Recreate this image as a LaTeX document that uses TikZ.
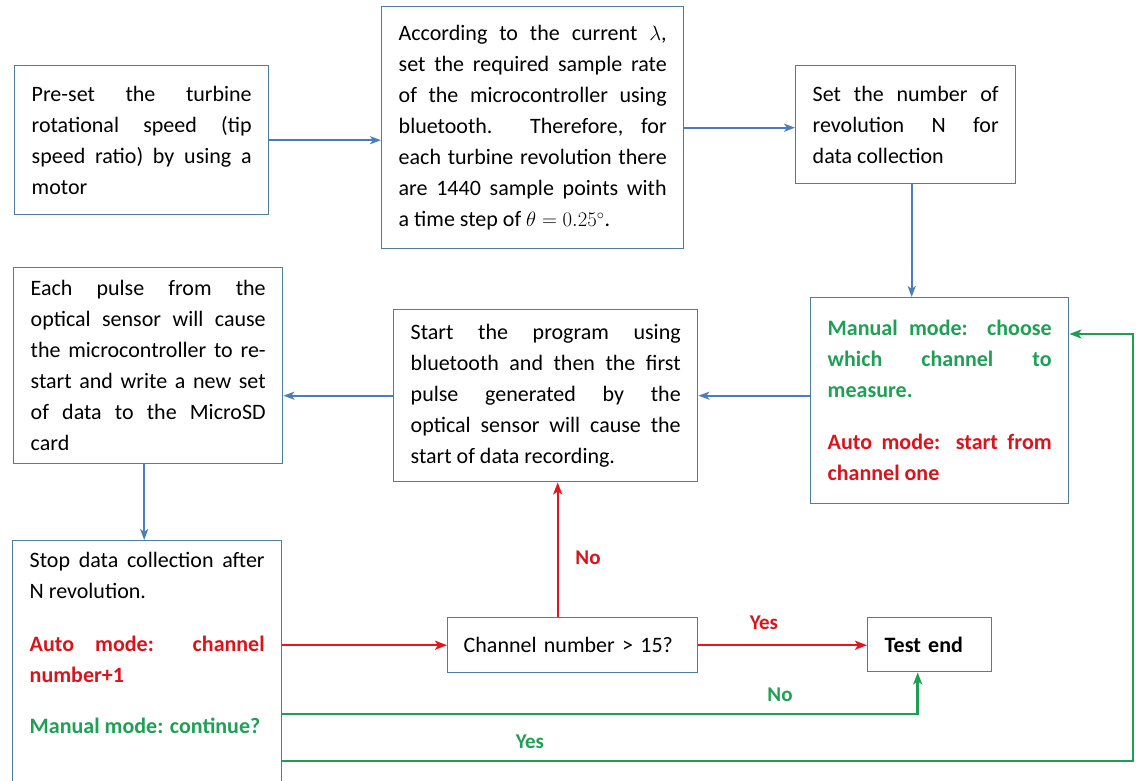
\documentclass[tikz,border=0pt]{standalone}
\usepackage{fontspec}
\setmainfont{Carlito}
\usetikzlibrary{arrows.meta,calc}
\definecolor{boxc}{HTML}{4E7E9E}
\definecolor{bluea}{HTML}{4A7EBB}
\definecolor{reda}{HTML}{E3161D}
\definecolor{redt}{HTML}{D9141C}
\definecolor{grna}{HTML}{1E9E52}
\definecolor{grnt}{HTML}{1FA055}
\tolerance=10000
\hyphenpenalty=10000
\begin{document}
\begin{tikzpicture}[x=1pt,y=-1pt,
  box/.style={draw=boxc, line width=1.4pt, fill=white, anchor=north west,
    inner xsep=17pt, inner ysep=0pt, align=justify,
    font=\fontsize{22}{31}\selectfont},
  barrow/.style={draw=bluea, line width=2pt, -{Stealth[length=11pt,width=8pt,inset=3pt]}},
  rarrow/.style={draw=reda, line width=2.2pt, -{Stealth[length=12pt,width=9pt,inset=3pt]}},
  garrow/.style={draw=grna, line width=2.6pt, -{Stealth[length=12pt,width=9pt,inset=3pt]}},
  lbl/.style={font=\fontsize{21}{25}\selectfont\bfseries, inner sep=0pt}
]
\fill[white] (0,0) rectangle (1136,780);
\useasboundingbox (0,0) rectangle (1136,780);

\node[box, text width=220pt, minimum width=254pt, minimum height=149pt] (A) at (14,65)
  {Pre-set the turbine\linebreak rotational speed (tip\linebreak speed ratio) by using a\linebreak motor};
\node[box, text width=268pt, minimum width=302pt, minimum height=242pt] (B) at (381,6)
  {According to the current $\lambda$,\linebreak set the required sample rate\linebreak of the microcontroller using\linebreak bluetooth. Therefore, for\linebreak each turbine revolution there\linebreak are 1440 sample points with\linebreak a time step of $\theta = 0.25^{\circ}$.};
\node[box, text width=186pt, minimum width=220pt, minimum height=118pt] (C) at (795,65)
  {Set the number of\linebreak revolution N for\linebreak data collection};
\node[box, text width=224pt, minimum width=258pt, minimum height=206pt] (D) at (810,297)
  {{\bfseries\color{grnt}Manual mode: choose\linebreak which channel to\linebreak measure.\par}\vspace{21pt}{\bfseries\color{redt}Auto mode: start from\linebreak channel one\par}};
\node[box, text width=270pt, minimum width=304pt, minimum height=172pt] (E) at (393,309)
  {Start the program using\linebreak bluetooth and then the first\linebreak pulse generated by the\linebreak optical sensor will cause the\linebreak start of data recording.};
\node[box, text width=235pt, minimum width=269pt, minimum height=196pt] (F) at (13,267)
  {Each pulse from the\linebreak optical sensor will cause\linebreak the microcontroller to re-\linebreak start and write a new set\linebreak of data to the MicroSD\linebreak card};
\node[box, text width=235pt, inner ysep=12pt] (G) at (12,540)
  {Stop data collection after\linebreak N revolution.\par\vspace{22pt}{\bfseries\color{redt}Auto mode: channel\linebreak number+1\par}\vspace{20pt}{\bfseries\color{grnt}Manual mode: continue?\par}\rule{0pt}{70pt}};
\node[box, align=left, inner xsep=16pt, text width=218pt, minimum width=250pt, minimum height=55pt] (H) at (447,617)
  {Channel number > 15?};
\node[box, align=left, text width=90pt, minimum width=124pt, minimum height=54pt,
  font=\fontsize{22}{31}\selectfont\bfseries] (T) at (867,617) {Test end};

\coordinate (ny) at (0,714);
\coordinate (gy) at (0,761);
\coordinate (rc) at (1133,0);
\coordinate (dy) at (0,334);

% blue connectors
\draw[barrow] (A.east) -- (A.east -| B.west);
\draw[barrow] (B.east) -- (B.east -| C.west);
\draw[barrow] ([xshift=6pt]C.south) -- ([xshift=6pt]C.south |- D.north);
\draw[barrow] (D.west |- E.east) -- (E.east);
\draw[barrow] (E.west) -- (E.west -| F.east);
\draw[barrow] ([xshift=-4pt]F.south) -- ([xshift=-4pt]F.south |- G.north);

% red connectors
\draw[rarrow] (H.west -| G.east) -- (H.west);
\draw[rarrow] (H.east) -- (H.east -| T.west);
\draw[rarrow] ([xshift=-15pt]H.north) -- ([xshift=-15pt]H.north |- E.south);

% green connectors
\draw[garrow] (G.east |- ny) -| ([xshift=-12pt]T.south);
\draw[garrow] (G.east |- gy) -- (gy -| rc) -- (rc |- dy) -- (D.east |- dy);

% labels
\node[lbl, text=redt] (yesR) at (764,623) {Yes};
\node[lbl, text=redt] (noR) at (588,558) {No};
\node[lbl, text=grnt] (noG) at (780,695) {No};
\node[lbl, text=grnt] (yesG) at (530,742) {Yes};
\end{tikzpicture}
\end{document}
